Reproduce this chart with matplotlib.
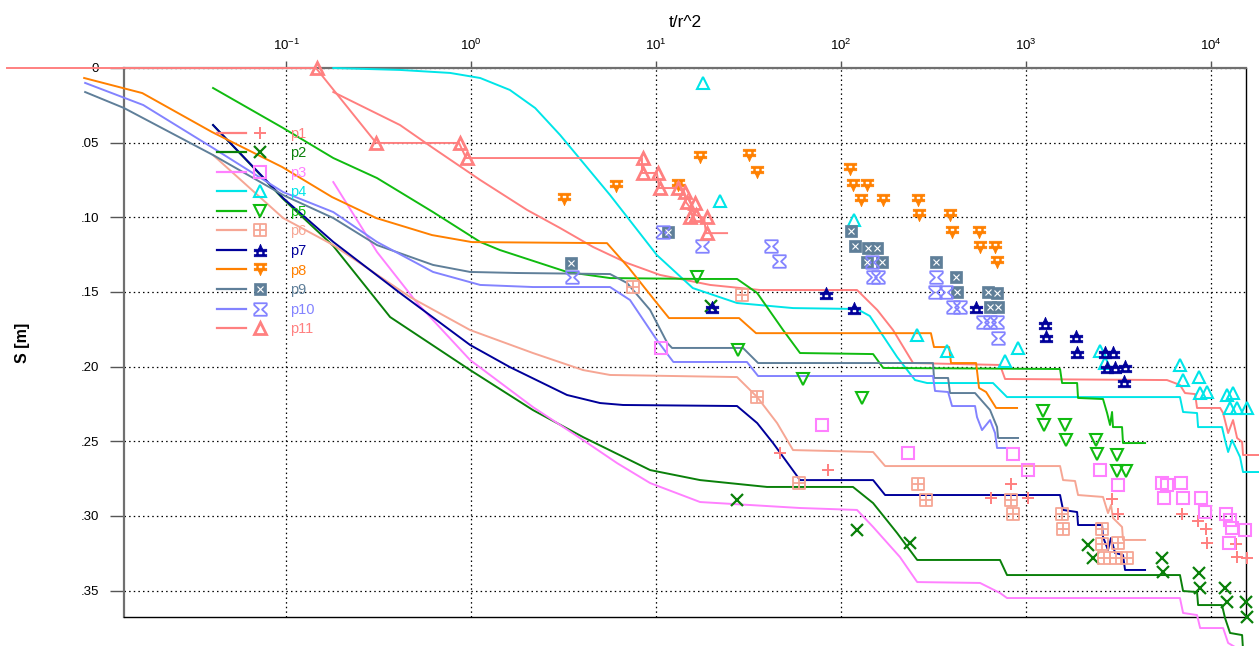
import matplotlib
matplotlib.use('Agg')

import math
import matplotlib.pyplot as plt
from matplotlib.path import Path
from matplotlib.lines import Line2D
from matplotlib.legend_handler import HandlerTuple
from matplotlib.ticker import FixedLocator, FuncFormatter, NullLocator

plt.rcParams['font.family'] = ['Liberation Sans', 'DejaVu Sans']
plt.rcParams['mathtext.fontset'] = 'custom'
plt.rcParams['mathtext.rm'] = 'Liberation Sans'
plt.rcParams['mathtext.it'] = 'Liberation Sans:italic'
plt.rcParams['mathtext.bf'] = 'Liberation Sans:bold'

# --- Daten (t/r^2, S [m]) ---
names = ['p1', 'p2', 'p3', 'p4', 'p5', 'p6', 'p7', 'p8', 'p9', 'p10', 'p11']
colors = ['#FF7F7F', '#0A800A', '#FF80FF', '#00E5E8', '#10BB10', '#F6A694',
          '#00009A', '#FF8000', '#5F7F99', '#8383FF', '#FF8080']

# Kurven
p1_curve_t = [0.18, 0.413, 0.623, 1.12, 2.01, 3.03, 4.57, 6.97, 10.5, 19.6, 36.5, 122, 157, 191, 245, 723,
              770, 5780, 6792, 7230, 8200, 8400, 11200, 11620, 12370, 13150, 13830, 14720, 14890, 17950]
p1_curve_s = [0.0161, 0.0382, 0.0536, 0.075, 0.0951, 0.1072, 0.1199, 0.1306, 0.1386, 0.1453, 0.1487, 0.1487,
              0.1621, 0.1755, 0.1976, 0.1989, 0.2083, 0.209, 0.2123, 0.2177, 0.2184, 0.2277, 0.2277, 0.2311,
              0.2445, 0.2358, 0.2478, 0.2505, 0.2592, 0.2592]
p2_curve_t = [0.0403, 0.0964, 0.18, 0.365, 0.988, 2.16, 4.03, 9.29, 17.3, 39.8, 116, 149, 201, 258, 723, 789,
              6792, 7060, 8400, 8510, 11460, 11900, 12670, 14720, 14890]
p2_curve_s = [0.0382, 0.0877, 0.1192, 0.1668, 0.2023, 0.2291, 0.2472, 0.2693, 0.276, 0.2806, 0.2806, 0.2914,
              0.3115, 0.3295, 0.3295, 0.3396, 0.3396, 0.3503, 0.351, 0.3597, 0.3597, 0.3684, 0.3784, 0.3798, 0.3898]
p3_curve_t = [0.18, 0.31, 0.511, 0.988, 2.16, 4.03, 6.15, 9.29, 17.3, 60.0, 122, 149, 208, 258, 564, 723, 789,
              6792, 7060, 8400, 8730, 11620, 12370, 14350]
p3_curve_s = [0.0764, 0.1232, 0.1574, 0.1956, 0.2271, 0.2492, 0.2646, 0.278, 0.2907, 0.2947, 0.296, 0.3074,
              0.3275, 0.3443, 0.3449, 0.3516, 0.355, 0.355, 0.365, 0.3664, 0.3751, 0.3751, 0.3851, 0.3898]
p4_curve_t = [0.18, 0.413, 0.77, 1.12, 1.62, 2.22, 3.03, 5.64, 10.1, 15.8, 27.4, 55.0, 122, 143, 201, 251, 292,
              663, 789, 6792, 7060, 8400, 8510, 11460, 11900, 12370, 12990, 14350, 14890, 17950]
p4_curve_s = [0.0, 0.0013, 0.0033, 0.0067, 0.0147, 0.0268, 0.0449, 0.0851, 0.1253, 0.1474, 0.1574, 0.1608,
              0.1614, 0.1661, 0.1936, 0.209, 0.211, 0.211, 0.2204, 0.2204, 0.2304, 0.2311, 0.2405, 0.2405,
              0.2492, 0.2572, 0.2492, 0.2606, 0.2706, 0.2706]
p5_curve_t = [0.0403, 0.0964, 0.18, 0.31, 0.623, 1.12, 1.43, 3.30, 5.64, 17.3, 27.4, 35.2, 48.6, 60.0, 149, 169,
              1527, 1566, 1888, 1910, 2606, 2742, 2844, 2917, 2951, 3303, 3343, 4399]
p5_curve_s = [0.0134, 0.0402, 0.0603, 0.0737, 0.0965, 0.1165, 0.1219, 0.1366, 0.1407, 0.1413, 0.1413, 0.1507,
              0.1755, 0.1909, 0.1916, 0.2009, 0.2016, 0.211, 0.211, 0.221, 0.2217, 0.2311, 0.2391, 0.2304,
              0.2405, 0.2405, 0.2512, 0.2512]
p6_curve_t = [0.0403, 0.0964, 0.18, 0.468, 0.988, 2.16, 4.03, 5.64, 27.4, 35.2, 45.1, 55.0, 149, 173, 1527,
              1585, 1840, 1910, 2606, 2773, 2878, 2951, 3303, 3343, 4399]
p6_curve_s = [0.0583, 0.1005, 0.1186, 0.1534, 0.1755, 0.1909, 0.2023, 0.2056, 0.207, 0.2204, 0.2378, 0.2559,
              0.2572, 0.2666, 0.2666, 0.276, 0.2766, 0.286, 0.2873, 0.2981, 0.2927, 0.3014, 0.3074, 0.3161, 0.3161]
p7_curve_t = [0.0403, 0.0964, 0.18, 0.413, 0.988, 1.62, 3.30, 4.98, 6.63, 27.4, 35.2, 42.9, 60.0, 149, 173,
              1527, 1585, 1888, 1910, 2576, 2606, 2773, 2878, 3027, 3343, 3428, 4399]
p7_curve_s = [0.0382, 0.0871, 0.1165, 0.1507, 0.1855, 0.2003, 0.219, 0.2244, 0.2257, 0.2264, 0.2378, 0.2512,
              0.276, 0.276, 0.286, 0.286, 0.296, 0.2974, 0.3061, 0.3061, 0.3141, 0.3228, 0.3148, 0.3248, 0.3262,
              0.3362, 0.3362]
p8_curve_t = [0.0081, 0.0167, 0.0398, 0.0952, 0.177, 0.307, 0.615, 1.01, 5.43, 7.14, 10.0, 11.75, 28.1, 34.7,
              306, 318, 384, 393, 537, 557, 608, 689, 894]
p8_curve_s = [0.0067, 0.0168, 0.0429, 0.0663, 0.0864, 0.1005, 0.1119, 0.1166, 0.1173, 0.134, 0.1568, 0.1675,
              0.1675, 0.1776, 0.1776, 0.1869, 0.1869, 0.1976, 0.1976, 0.2143, 0.217, 0.2277, 0.2277]
p9_curve_t = [0.0082, 0.0133, 0.0403, 0.0964, 0.18, 0.31, 0.623, 0.988, 1.77, 5.64, 6.97, 9.29, 11.5, 12.2,
              29.5, 35.6, 314, 318, 379, 388, 530, 639, 697, 706, 905]
p9_curve_s = [0.0161, 0.0268, 0.0583, 0.0851, 0.1005, 0.1186, 0.1319, 0.1366, 0.1373, 0.138, 0.144, 0.1621,
              0.1842, 0.1875, 0.1875, 0.1976, 0.1976, 0.2076, 0.2076, 0.2177, 0.2177, 0.2291, 0.2405, 0.2478, 0.2478]
p10_curve_t = [0.0082, 0.0169, 0.0403, 0.0964, 0.18, 0.31, 0.623, 1.12, 2.16, 5.64, 7.23, 10.1, 12.4, 31.0,
               35.6, 314, 322, 379, 398, 530, 543, 578, 639, 680, 697, 905]
p10_curve_s = [0.01, 0.0248, 0.0536, 0.0831, 0.0965, 0.1165, 0.1366, 0.1453, 0.1467, 0.1467, 0.1554, 0.1822,
               0.1969, 0.1969, 0.2063, 0.2063, 0.2163, 0.217, 0.2264, 0.2264, 0.2338, 0.2425, 0.2358, 0.2445,
               0.2545, 0.2545]
p11_curve_t = [0.0031, 0.145, 0.307, 0.861, 0.94, 8.39, 8.39, 10.1, 10.4, 13.0, 14.2, 14.5, 16.4, 18.2, 18.6, 24.2]
p11_curve_s = [0, 0, 0.0502, 0.0502, 0.0603, 0.0603, 0.0703, 0.0703, 0.0804, 0.0804, 0.0831, 0.0898, 0.0985,
               0.1005, 0.1106, 0.1106]

# Messpunkte
p1_t = [46.8, 85.1, 647, 829, 1026, 2917, 3141, 6966, 8511, 9397, 9506, 13650, 13830, 15660]
p1_s = [0.2579, 0.2693, 0.288, 0.2786, 0.288, 0.2887, 0.2987, 0.2987, 0.3034, 0.3088, 0.3181, 0.3188, 0.3275, 0.3282]
p2_t = [19.8, 27.4, 122, 236, 2163, 2301, 5433, 5508, 8610, 8730, 11900, 12190, 15450, 15660]
p2_s = [0.1594, 0.2894, 0.3094, 0.3181, 0.3195, 0.3282, 0.3282, 0.3376, 0.3382, 0.3483, 0.3483, 0.3577, 0.3577, 0.3677]
p3_t = [10.6, 78.9, 230, 851, 1026, 2512, 3141, 5433, 5781, 6887, 5572, 7063, 8831, 9290, 12050, 12670, 12990,
        15280, 12500]
p3_s = [0.1875, 0.2391, 0.2579, 0.2585, 0.2693, 0.2693, 0.2793, 0.278, 0.2793, 0.278, 0.288, 0.288, 0.288,
        0.2974, 0.2987, 0.3027, 0.3081, 0.3094, 0.3181]
p4_t = [17.9, 22.2, 118, 258, 374, 770, 905, 2512, 2673, 6792, 7063, 8610, 8730, 9506, 12190, 13150, 12670,
        13830, 15660]
p4_s = [0.0100, 0.0891, 0.1018, 0.1788, 0.1896, 0.1962, 0.1875, 0.1896, 0.1976, 0.1989, 0.209, 0.207, 0.2177,
        0.217, 0.219, 0.2177, 0.2277, 0.2277, 0.2277]
p5_t = [16.7, 27.7, 62.4, 130, 1236, 1251, 1625, 1644, 2389, 2421, 3105, 3105, 3475]
p5_s = [0.14, 0.1889, 0.2083, 0.221, 0.2297, 0.2391, 0.2391, 0.2492, 0.2492, 0.2585, 0.2592, 0.2699, 0.2699]
p6_t = [7.51, 29.2, 35.2, 59.3, 261, 288, 829, 851, 1566, 1585, 2576, 2576, 3141, 2642, 3063, 3516]
p6_s = [0.1467, 0.152, 0.2204, 0.278, 0.2786, 0.2894, 0.2894, 0.2987, 0.2987, 0.3088, 0.3088, 0.3188, 0.3181,
        0.3282, 0.3282, 0.3282]
p7_t = [20.1, 83.0, 118, 537, 1267, 1283, 1862, 1888, 2673, 2951, 2742, 3027, 3428, 3388]
p7_s = [0.1601, 0.1507, 0.1608, 0.1601, 0.1708, 0.1795, 0.1795, 0.1902, 0.1902, 0.1902, 0.2003, 0.2003, 0.1996, 0.2096]
p8_t = [3.18, 6.08, 13.1, 17.3, 31.8, 35.2, 112, 116, 138, 128, 169, 261, 264, 388, 398, 557, 564, 680, 697]
p8_s = [0.0877, 0.079, 0.0784, 0.0596, 0.0583, 0.0697, 0.0676, 0.0784, 0.0784, 0.0884, 0.0884, 0.0884, 0.0985,
        0.0985, 0.1098, 0.1098, 0.1199, 0.1199, 0.1299]
p9_t = [3.47, 11.6, 113, 119, 140, 157, 138, 167, 326, 419, 424, 624, 697, 639, 706]
p9_s = [0.1306, 0.1098, 0.1092, 0.1192, 0.1206, 0.1206, 0.1299, 0.1299, 0.1299, 0.14, 0.15, 0.15, 0.1507,
        0.1601, 0.1601]
p10_t = [3.52, 10.9, 17.7, 41.9, 46.2, 147, 149, 159, 326, 322, 370, 403, 440, 586, 639, 697, 706]
p10_s = [0.14, 0.1098, 0.1192, 0.1192, 0.1293, 0.1299, 0.14, 0.14, 0.14, 0.15, 0.15, 0.1601, 0.1601, 0.1701,
         0.1701, 0.1701, 0.1808]
p11_t = [0.147, 0.307, 0.872, 0.951, 8.48, 8.48, 10.2, 10.5, 13.1, 14.3, 14.7, 16.3, 15.3, 16.5, 18.9, 18.9]
p11_s = [0, 0.0502, 0.0502, 0.0603, 0.0603, 0.0703, 0.0703, 0.0804, 0.0804, 0.0831, 0.0898, 0.0904, 0.0998,
         0.0985, 0.0998, 0.1106]


# --- eigene Marker ---
def polys(*shapes, segs=()):
    verts, codes = [], []
    for shp in shapes:
        verts += list(shp) + [shp[0]]
        codes += [Path.MOVETO] + [Path.LINETO] * (len(shp) - 1) + [Path.CLOSEPOLY]
    for a, b in segs:
        verts += [a, b]
        codes += [Path.MOVETO, Path.LINETO]
    return Path(verts, codes)


box_plus = polys([(-1, -1), (1, -1), (1, 1), (-1, 1)], segs=[((0, -1), (0, 1)), ((-1, 0), (1, 0))])
hat_up = polys([(-0.35, 0.2), (0.35, 0.2), (0, 1)],
               [(-1, -0.2), (1, -0.2), (1, 0.2), (-1, 0.2)],
               [(-1, -1), (1, -1), (1, -0.65), (-1, -0.65)],
               [(-0.6, -0.65), (-0.35, -0.65), (-0.35, -0.2), (-0.6, -0.2)],
               [(0.35, -0.65), (0.6, -0.65), (0.6, -0.2), (0.35, -0.2)])
hat_down = Path([(x, -y) for x, y in hat_up.vertices], hat_up.codes)
hourglass = polys([(-1, 1), (1, 1), (1, 0.7), (0.25, 0), (1, -0.7), (1, -1), (-1, -1), (-1, -0.7),
                   (-0.25, 0), (-1, 0.7)])

curves = [(p1_curve_t, p1_curve_s), (p2_curve_t, p2_curve_s), (p3_curve_t, p3_curve_s),
          (p4_curve_t, p4_curve_s), (p5_curve_t, p5_curve_s), (p6_curve_t, p6_curve_s),
          (p7_curve_t, p7_curve_s), (p8_curve_t, p8_curve_s), (p9_curve_t, p9_curve_s),
          (p10_curve_t, p10_curve_s), (p11_curve_t, p11_curve_s)]
points = [(p1_t, p1_s), (p2_t, p2_s), (p3_t, p3_s), (p4_t, p4_s), (p5_t, p5_s), (p6_t, p6_s),
          (p7_t, p7_s), (p8_t, p8_s), (p9_t, p9_s), (p10_t, p10_s), (p11_t, p11_s)]

mk = [
    dict(marker='+', ms=9, mew=1.4),
    dict(marker='x', ms=8, mew=1.6),
    dict(marker='s', ms=8, mew=1.5, mfc='none'),
    dict(marker='^', ms=8, mew=1.5, mfc='none'),
    dict(marker='v', ms=8, mew=1.5, mfc='none'),
    dict(marker=box_plus, ms=9, mew=1.3, mfc='none'),
    dict(marker=hat_up, ms=9, mew=0.5),
    dict(marker=hat_down, ms=9, mew=0.5),
    dict(marker='s', ms=8, mew=0.5),
    dict(marker=hourglass, ms=9, mew=1.3, mfc='none'),
    dict(marker='^', ms=9, mew=2.0, mfc='none'),
]

fig = plt.figure(figsize=(12.59, 6.46), dpi=100)
ax = fig.add_axes([124 / 1259, 29 / 646, 1122 / 1259, 549 / 646])

handles = []
for i, name in enumerate(names):
    c = colors[i]
    ct, cs = curves[i]
    ax.plot(ct, cs, color=c, lw=1.4, clip_on=False, zorder=3 if i != 10 else 4)
    pt, ps = points[i]
    ax.plot(pt, ps, ls='none', color=c, mec=c, clip_on=False, zorder=5, **mk[i])
    ln = Line2D([], [], color=c, lw=1.6)
    mh = Line2D([], [], ls='none', color=c, mec=c, **mk[i])
    if name == 'p9':
        ax.plot(pt, ps, ls='none', marker='x', ms=4, mew=0.8, color='white', clip_on=False, zorder=6)
        mh = (mh, Line2D([], [], ls='none', marker='x', ms=4, mew=0.8, color='white'))
    handles.append((ln, mh))

ax.set_xscale('log')
ax.set_xlim(0.0133, 15450)
ax.set_ylim(0.3677, 0)

ax.xaxis.tick_top()
ax.xaxis.set_label_position('top')
ax.xaxis.set_major_locator(FixedLocator([0.1, 1, 10, 100, 1000, 10000]))
ax.xaxis.set_minor_locator(NullLocator())
ax.xaxis.set_major_formatter(FuncFormatter(lambda v, p: r'$\mathregular{10^{%d}}$' % round(math.log10(v))))
ax.set_yticks([0, 0.05, 0.10, 0.15, 0.20, 0.25, 0.30, 0.35])
ax.yaxis.set_major_formatter(FuncFormatter(lambda v, p: '0' if v == 0 else ('%.2f' % v).lstrip('0')))

ax.tick_params(axis='x', which='major', direction='out', length=5, width=1, color='#555555',
               labelsize=9.5, pad=6, top=True, bottom=False)
ax.tick_params(axis='y', which='major', direction='out', length=10, width=1, color='#555555',
               labelsize=9.5, pad=8)
ax.grid(True, which='major', color='black', ls=(0, (1.2, 2.5)), lw=0.9)

for side in ['left', 'top']:
    ax.spines[side].set_color('#707070')
    ax.spines[side].set_linewidth(1.6)
for side in ['right', 'bottom']:
    ax.spines[side].set_color('black')
    ax.spines[side].set_linewidth(1.0)

ax.set_xlabel('t/r^2', fontsize=12.5)
ax.xaxis.set_label_coords(0.5, 1.075)
ax.set_ylabel('S [m]', fontsize=11.5, fontweight='bold')
ax.yaxis.set_label_coords(-0.084, 0.5)

hmap = {h: HandlerTuple(ndivide=None, pad=0.0) for h in handles}
leg = ax.legend(handles, names, handler_map=hmap, loc='upper left', bbox_to_anchor=(0.083, 0.893),
                frameon=False, fontsize=10.5, handlelength=3.9, handletextpad=1.1, labelspacing=0.38,
                borderpad=0, borderaxespad=0)
for txt, c in zip(leg.get_texts(), colors):
    txt.set_color(c)
leg.set_zorder(7)

fig.savefig('out.png', dpi=100)
